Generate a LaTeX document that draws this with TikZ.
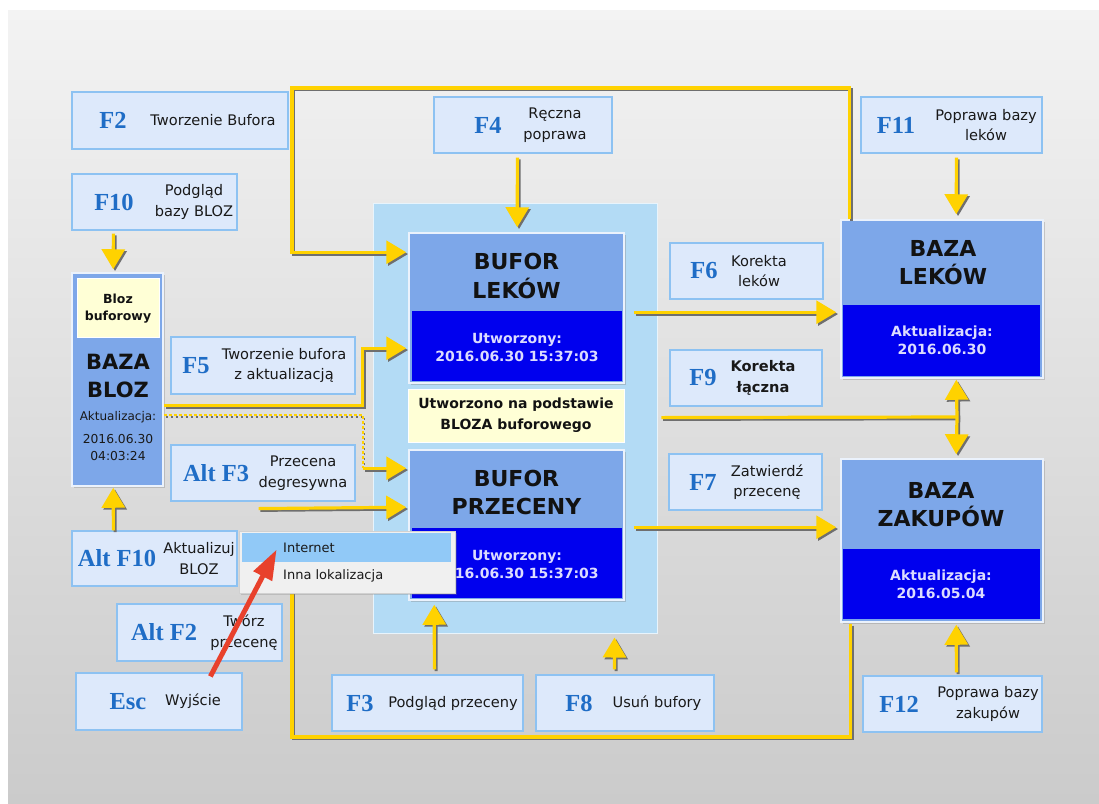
\documentclass[tikz,border=0pt]{standalone}
\usepackage{fontspec}
\setmainfont{DejaVu Sans}
\newfontfamily\keyfont{Liberation Serif}
\usetikzlibrary{arrows.meta,calc,fit,shadows}
\definecolor{gold}{HTML}{FFD200}
\definecolor{shad}{HTML}{6F6F6F}
\definecolor{kfill}{HTML}{DDE9FB}
\definecolor{kborder}{HTML}{8DC2F2}
\definecolor{keyblue}{HTML}{1F6DC6}
\definecolor{midblue}{HTML}{7DA7E9}
\definecolor{darkblue}{HTML}{0000EE}
\definecolor{darktext}{HTML}{DCDCFF}
\definecolor{contblue}{HTML}{B3DBF5}
\definecolor{notefill}{HTML}{FFFFD6}
\definecolor{popfill}{HTML}{F0F0F0}
\definecolor{pophl}{HTML}{91C9F7}
\definecolor{redarrow}{HTML}{E8412C}
\definecolor{bgtop}{HTML}{F3F3F3}
\definecolor{bgbot}{HTML}{CBCBCB}
\tikzset{
  kbox/.style={draw=kborder, fill=kfill, line width=1.2pt, inner sep=0pt},
  keylbl/.style={font=\keyfont\bfseries\fontsize{24.5}{24}\selectfont, text=keyblue, inner sep=0pt},
  desc/.style={font=\fontsize{14.6}{20.5}\selectfont, align=center, inner sep=0pt, text=black!90},
  bigbox/.style={fill=midblue, draw=white!85!midblue, line width=1.5pt, inner sep=0pt,
    drop shadow={shadow xshift=2pt, shadow yshift=-2pt, opacity=0.35}},
  darkpart/.style={fill=darkblue, inner sep=0pt},
  title/.style={font=\bfseries\fontsize{22}{28.5}\selectfont, align=center, inner sep=0pt, text=black!93},
  darklbl/.style={font=\bfseries\fontsize{14}{18}\selectfont, align=center, inner sep=0pt, text=darktext},
  tip/.style={-{Triangle[length=20pt,width=23pt]}},
  conn/.style={draw=gold, line width=3.2pt, tip,
    preaction={draw=shad, line width=3pt, tip, transform canvas={shift={(1.8,1.8)}}}},
  plainline/.style={draw=gold, line width=3.2pt,
    preaction={draw=shad, line width=3pt, transform canvas={shift={(1.8,1.8)}}}},
  dotline/.style={draw=gold, line width=1.8pt, dash pattern=on 3pt off 2pt,
    preaction={draw=shad, line width=1.2pt, dash pattern=on 2pt off 3pt, transform canvas={shift={(1.8,1.8)}}}},
  redarr/.style={draw=redarrow, line width=5pt, -{Triangle[length=30pt,width=20pt]}},
}
\newcommand\keybox[9]{%
  \node[kbox, fit={(#2,#3) (#4,#5)}] (#1) {};
  \node[keylbl] (#1k) at ({#6},{(#3+#5)/2}) {#7};
  \node[desc] (#1d) at ({#8},{(#3+#5)/2}) {#9};
}
\begin{document}
\begin{tikzpicture}[x=1pt,y=-1pt]
\useasboundingbox (0,0) rectangle (1099,803);
% background
\fill[white] (0,0) rectangle (1099,803);
\shade[top color=bgtop, bottom color=bgbot] (8,10) rectangle (1099,803);

% container
\node[fill=contblue, draw=white!70!contblue, line width=1pt, inner sep=0pt, fit={(373,203) (657,633)}] (cont) {};

% big boxes
\node[bigbox, fit={(409,233) (624,383)}] (bufl) {};
\node[darkpart, fit={(412,311) (622,381)}] (bufld) {};
\node[title] (buflt) at (516.5,276) {BUFOR\\LEKÓW};
\node[darklbl] (bufll) at (517,347) {Utworzony:\\2016.06.30 15:37:03};

\node[fill=notefill, draw=white, line width=1pt, inner sep=0pt, fit={(408,389) (624,442)}] (note) {};
\node[font=\bfseries\fontsize{14}{21}\selectfont, align=center, inner sep=0pt, text=black!93] (notet) at (516,415.5) {Utworzono na podstawie\\BLOZA buforowego};

\node[bigbox, fit={(409,450) (624,600)}] (bufp) {};
\node[darkpart, fit={(412,528) (622,598)}] (bufpd) {};
\node[title] (bufpt) at (516.5,492.5) {BUFOR\\PRZECENY};
\node[darklbl] (bufpl) at (517,564) {Utworzony:\\2016.06.30 15:37:03};

\node[bigbox, fit={(841,220) (1043,378)}] (lekow) {};
\node[darkpart, fit={(843,305) (1040,376)}] (lekowd) {};
\node[title] (lekowt) at (943,262.5) {BAZA\\LEKÓW};
\node[darklbl] (lekowl) at (942,340.5) {Aktualizacja:\\2016.06.30};

\node[bigbox, fit={(841,459) (1043,622)}] (zakup) {};
\node[darkpart, fit={(843,549) (1040,619)}] (zakupd) {};
\node[title] (zakupt) at (941,504.5) {BAZA\\ZAKUPÓW};
\node[darklbl] (zakupl) at (941,584.5) {Aktualizacja:\\2016.05.04};

\node[bigbox, fit={(72,273) (163,486)}] (bloz) {};
\node[fill=notefill, draw=white, line width=1pt, inner sep=0pt, fit={(77,278) (159,337)}] (blozb) {};
\node[font=\bfseries\fontsize{12.5}{17}\selectfont, align=center, inner sep=0pt, text=black!93] (blozbt) at (118,308.5) {Bloz\\buforowy};
\node[font=\bfseries\fontsize{21}{28}\selectfont, align=center, inner sep=0pt, text=black!93] (blozt) at (118,376) {BAZA\\BLOZ};
\node[font=\fontsize{12}{17}\selectfont, inner sep=0pt, text=black!90] (bloza) at (118,417) {Aktualizacja:};
\node[font=\fontsize{12.3}{17}\selectfont, align=center, inner sep=0pt, text=black!90] (blozd) at (118,448) {2016.06.30\\04:03:24};

% key boxes
\keybox{f2}{72}{92}{288}{149}{113}{F2}{213}{Tworzenie Bufora}
\keybox{f10}{72}{174}{237}{230}{114}{F10}{194}{Podgląd\\bazy BLOZ}
\keybox{f5}{171}{337}{355}{394}{196}{F5}{284}{Tworzenie bufora\\z aktualizacją}
\keybox{altf3}{171}{445}{355}{501}{216}{Alt F3}{303}{Przecena\\degresywna}
\keybox{altf10}{72}{531}{237}{586}{117}{Alt F10}{199}{Aktualizuj\\BLOZ}
\keybox{altf2}{117}{604}{282}{661}{164}{Alt F2}{244}{Twórz\\przecenę}
\keybox{esc}{76}{673}{242}{730}{128}{Esc}{193}{Wyjście}
\keybox{f4}{434}{97}{612}{153}{488}{F4}{555}{Ręczna\\poprawa}
\keybox{f3}{332}{675}{523}{731}{360}{F3}{453}{Podgląd przeceny}
\keybox{f8}{536}{675}{714}{731}{579}{F8}{657}{Usuń bufory}
\keybox{f11}{861}{97}{1042}{153}{896}{F11}{986}{Poprawa bazy\\leków}
\keybox{f6}{670}{243}{823}{299}{704}{F6}{759}{Korekta\\leków}
\keybox{f9}{670}{350}{822}{406}{703}{F9}{763}{\textbf{Korekta}\\\textbf{łączna}}
\keybox{f7}{669}{454}{822}{510}{703}{F7}{767}{Zatwierdź\\przecenę}
\keybox{f12}{863}{676}{1042}{732}{899}{F12}{988}{Poprawa bazy\\zakupów}

% connectors
\draw[conn] ($(f10.south west)+(42,3)$) -- ($(bloz.north west)+(42,-3)$);
\draw[conn] ($(altf10.north west)+(42,0)$) -- ($(bloz.south west)+(42,1)$);
\draw[conn] ($(bloz.north east)+(0,133)$) -- ++(199,0) |- ($(bufl.north west)+(-2,116)$);
\draw[dotline] ($(bloz.north east)+(0,143)$) -- ++(199,0) -- ++(0,53) coordinate (dj);
\draw[conn] (dj) -- ($(bufp.north west)+(-2,19)$);
\draw[conn] ($(altf3.south east)+(-97,7)$) -- ($(bufp.north west)+(-2,58)$);
\draw[conn] ($(lekow.north west)+(9,0)$) |- (292,88) |- ($(bufl.north west)+(-2,20)$);
\draw[conn] ($(f4.south west)+(84,4)$) -- ($(bufl.north west)+(109,-5)$);
\draw[conn] ($(bufl.north east)+(9,80)$) -- ($(lekow.north west)+(-4,93)$);
\draw[plainline] ($(f9.south west)+(-8,11)$) -- (957,417) coordinate (j9);
\draw[conn] (j9) -- ($(lekow.south west)+(116,1)$);
\draw[conn] (j9) -- ($(zakup.north west)+(116,-4)$);
\draw[conn] ($(bufp.north east)+(9,78)$) -- ($(zakup.north west)+(-4,69)$);
\draw[conn] ($(f11.south west)+(96,4)$) -- ($(lekow.north west)+(116,-5)$);
\draw[conn] ($(f12.north west)+(94,-3)$) -- ($(zakup.south west)+(116,2)$);
\draw[conn] ($(f3.north west)+(103,-5)$) -- ($(bufp.south west)+(26,4)$);
\draw[conn] ($(f8.north west)+(79,-5)$) -- ($(cont.south west)+(242,4)$);
\draw[plainline] ($(zakup.south west)+(10,1)$) |- (292,737) -- (292,560);

% popup menu
\node[fill=popfill, draw=black!18, line width=0.8pt, inner sep=0pt, fit={(239,531) (455,593)},
  drop shadow={shadow xshift=2pt, shadow yshift=-2pt, opacity=0.3}] (popup) {};
\node[fill=pophl, inner sep=0pt, fit={(242,533) (451,562)}] (hl) {};
\node[anchor=west, font=\fontsize{13}{13}\selectfont, inner sep=0pt, text=black!90] (inet) at (283,548) {Internet};
\node[anchor=west, font=\fontsize{13}{13}\selectfont, inner sep=0pt, text=black!90] (inna) at (283,576) {Inna lokalizacja};

% red arrow
\draw[redarr] ($(esc.north west)+(135,4)$) -- ($(popup.north west)+(38,19)$);
\end{tikzpicture}
\end{document}
